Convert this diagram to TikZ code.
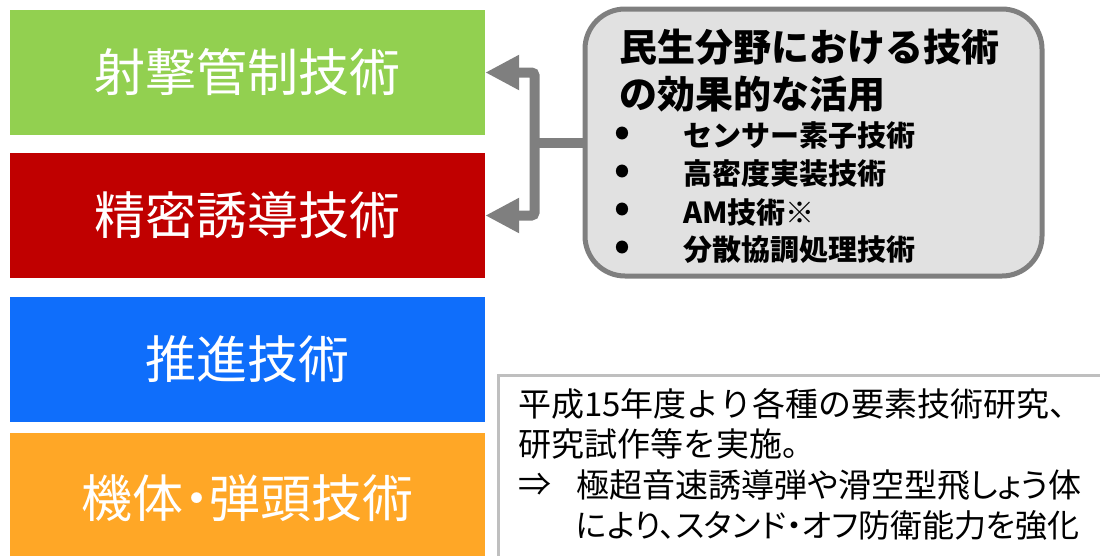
\documentclass[tikz,border=0pt]{standalone}
\usepackage{fontspec}
\newfontfamily\jp{Noto Sans CJK JP}
\newfontfamily\jpp[RawFeature=+palt]{Noto Sans CJK JP}
\usetikzlibrary{arrows.meta,calc}
\definecolor{cgreen}{HTML}{92D050}
\definecolor{cred}{HTML}{C00000}
\definecolor{cblue}{HTML}{0F6EFB}
\definecolor{corange}{HTML}{FFA726}
\definecolor{cgrayfill}{HTML}{E1E1E1}
\definecolor{cgrayline}{HTML}{7F7F7F}
\definecolor{clight}{HTML}{BFBFBF}
\tikzset{
  techbox/.style={draw=none, minimum width=475pt, minimum height=125pt, inner sep=0pt,
    text=white, font=\jp\fontsize{51}{60}\selectfont},
  civbox/.style={draw=cgrayline, line width=5pt, fill=cgrayfill, rounded corners=40pt,
    minimum width=457pt, minimum height=267pt, inner sep=0pt},
  titletxt/.style={anchor=west, inner sep=0pt, font=\jp\bfseries\fontsize{38}{47}\selectfont, align=left},
  bullettxt/.style={anchor=west, inner sep=0pt, font=\jp\bfseries\fontsize{29}{35}\selectfont},
  bulletdot/.style={anchor=west, inner sep=0pt, font=\jp\bfseries\fontsize{40}{40}\selectfont},
  notetxt/.style={anchor=west, inner sep=0pt, font=\jp\fontsize{33}{40}\selectfont},
  notetxtp/.style={anchor=west, inner sep=0pt, font=\jpp\fontsize{32}{40}\selectfont},
  conn/.style={draw=cgrayline, line width=10pt},
  connarrow/.style={conn, {Triangle[length=34pt,width=33pt]}-{Triangle[length=34pt,width=33pt]}}
}
\begin{document}
\begin{tikzpicture}[x=1pt,y=-1pt]
\useasboundingbox (0,0) rectangle (1100,555);
\clip (0,0) rectangle (1100,555);
% technology boxes
\node[techbox, fill=cgreen] (green) at (247.5,72.5) {射撃管制技術};
\node[techbox, fill=cred] (red) at (247.5,215.5) {精密誘導技術};
\node[techbox, fill=cblue] (blue) at (247.5,359.5) {推進技術};
\node[techbox, fill=corange, minimum height=130pt, font=\jpp\fontsize{51}{60}\selectfont] (orange) at (247.5,498) {機体・弾頭技術};
% civil technology box
\node[civbox] (civ) at (813.5,142.5) {};
\node[titletxt] (title) at (619,71) {民生分野における技術\\の効果的な活用};
\node[bulletdot] (b1) at (614,136) {•};
\node[bulletdot] (b2) at (614,174) {•};
\node[bulletdot] (b3) at (614,212) {•};
\node[bulletdot] (b4) at (614,250) {•};
\node[bullettxt] (t1) at (683,136) {センサー素子技術};
\node[bullettxt] (t2) at (683,174) {高密度実装技術};
\node[bullettxt] (t3) at (683,212) {AM技術※};
\node[bullettxt] (t4) at (683,250) {分散協調処理技術};
% connector
\coordinate (j) at ($(civ.west)+(-48pt,0)$);
\draw[conn] (civ.west) -- (j);
\draw[connarrow, rounded corners=3pt] (green.east) -- (j |- green.east) -- (j |- red.east) -- (red.east);
% note box
\draw[draw=clight, line width=3pt] (498.5,375) rectangle (1120,580);
\node[notetxt] (n1) at (518,404) {平成15年度より各種の要素技術研究、};
\node[notetxt] (n2) at (518,444) {研究試作等を実施。};
\node[notetxt] (n3a) at (518,485) {⇒};
\node[notetxtp, font=\jpp\fontsize{33}{40}\selectfont] (n3) at (576,485) {極超音速誘導弾や滑空型飛しょう体};
\node[notetxtp] (n4) at (576,525) {により、スタンド・オフ防衛能力を強化};
\end{tikzpicture}
\end{document}
